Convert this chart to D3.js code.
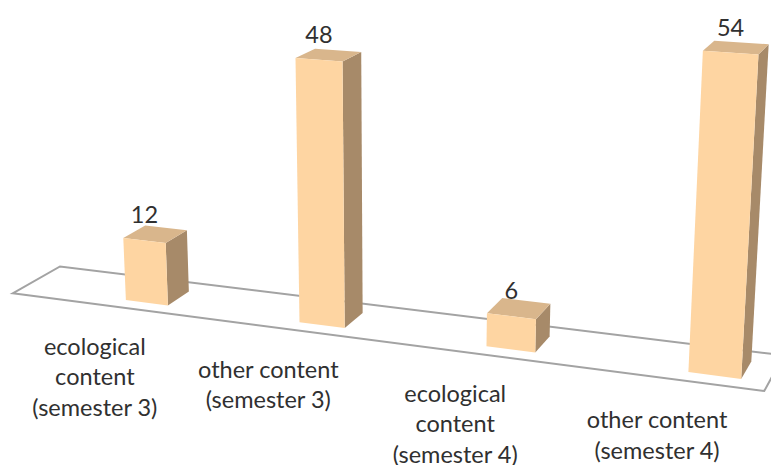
<!DOCTYPE html>
<html>
<head>
<meta charset="utf-8">
<script src="https://cdn.jsdelivr.net/npm/d3@7"></script>
<style>
  body { margin: 0; background: #fff; }
  svg { display: block; }
  text { font-family: Lato, 'Open Sans', sans-serif; fill: #303030; }
</style>
</head>
<body>
<div id="container"></div>
<script>
const categories = [
  'ecological\ncontent\n(semester 3)',
  'other content\n(semester 3)',
  'ecological\ncontent\n(semester 4)',
  'other content\n(semester 4)'
];
const values = [12, 48, 6, 54];

const width = 771, height = 465;

// perspective camera: screen point of the floor's front-left corner,
// the three vanishing points and a scale along each world axis
const origin = [12.7, 293.3];
const vpX = [-4564, -301.2], vpY = [398, 6819], vpZ = [1178, -367];
const sX = -0.03553, sY = -0.04187, sZ = 0.04231;

function project(X, Y, Z) {
  const w = 1 + sX * X + sY * Y + sZ * Z;
  const hx = origin[0] + sX * X * vpX[0] + sY * Y * vpY[0] + sZ * Z * vpZ[0];
  const hy = origin[1] + sX * X * vpX[1] + sY * Y * vpY[1] + sZ * Z * vpZ[1];
  return [hx / w, hy / w];
}

const floorWidth = 3.97;
const barShift = 0.245, barWidth = 0.247;
const barFront = 0.23, barBack = 0.72;

let x = d3.scaleBand().domain(categories).range([0, floorWidth]);
let y = d3.scaleLinear().domain([0, 54]).range([0, 1]);

let svg = d3.select('#container').append('svg')
  .attr('width', width)
  .attr('height', height);

const face = (pts) => 'M' + pts.map((p) => project(...p).join(',')).join('L') + 'Z';

// floor outline
svg.append('path')
  .attr('d', face([[0, 0, 0], [floorWidth, 0, 0], [floorWidth, 0, 1], [0, 0, 1]]))
  .attr('fill', 'none')
  .attr('stroke', '#a3a3a3')
  .attr('stroke-width', 2);

const bars = categories.map((c, i) => {
  const x0 = x(c) + x.bandwidth() / 2 + barShift - barWidth / 2;
  return { c, v: values[i], x0, x1: x0 + barWidth, h: y(values[i]) };
});

let bar = svg.append('g').selectAll('g')
  .data(bars)
  .enter()
  .append('g');

bar.append('path')
  .attr('d', (d) => face([[d.x1, 0, barFront], [d.x1, 0, barBack], [d.x1, d.h, barBack], [d.x1, d.h, barFront]]))
  .attr('fill', '#a78a69');

bar.append('path')
  .attr('d', (d) => face([[d.x0, d.h, barFront], [d.x1, d.h, barFront], [d.x1, d.h, barBack], [d.x0, d.h, barBack]]))
  .attr('fill', '#d9b68c');

bar.append('path')
  .attr('d', (d) => face([[d.x0, 0, barFront], [d.x1, 0, barFront], [d.x1, d.h, barFront], [d.x0, d.h, barFront]]))
  .attr('fill', '#fed5a2');

// value labels
svg.append('g').selectAll('text')
  .data(bars)
  .enter()
  .append('text')
  .attr('text-anchor', 'middle')
  .attr('font-size', '23.5px')
  .attr('x', (d) => project((d.x0 + d.x1) / 2, d.h, barFront)[0])
  .attr('y', (d) => project((d.x0 + d.x1) / 2, d.h, barFront)[1] - 17)
  .text((d) => d.v);

// category labels under the floor's front edge
let cat = svg.append('g').selectAll('text')
  .data(categories)
  .enter()
  .append('text')
  .attr('text-anchor', 'middle')
  .attr('font-size', '23.5px')
  .attr('transform', (c) => {
    const p = project(x(c) + x.bandwidth() / 2, 0, 0);
    return `translate(${p[0]},${p[1] + 51})`;
  });

cat.selectAll('tspan')
  .data((c) => c.split('\n'))
  .enter()
  .append('tspan')
  .attr('x', 0)
  .attr('y', (d, i) => i * 30.5)
  .text((d) => d);
</script>
</body>
</html>
